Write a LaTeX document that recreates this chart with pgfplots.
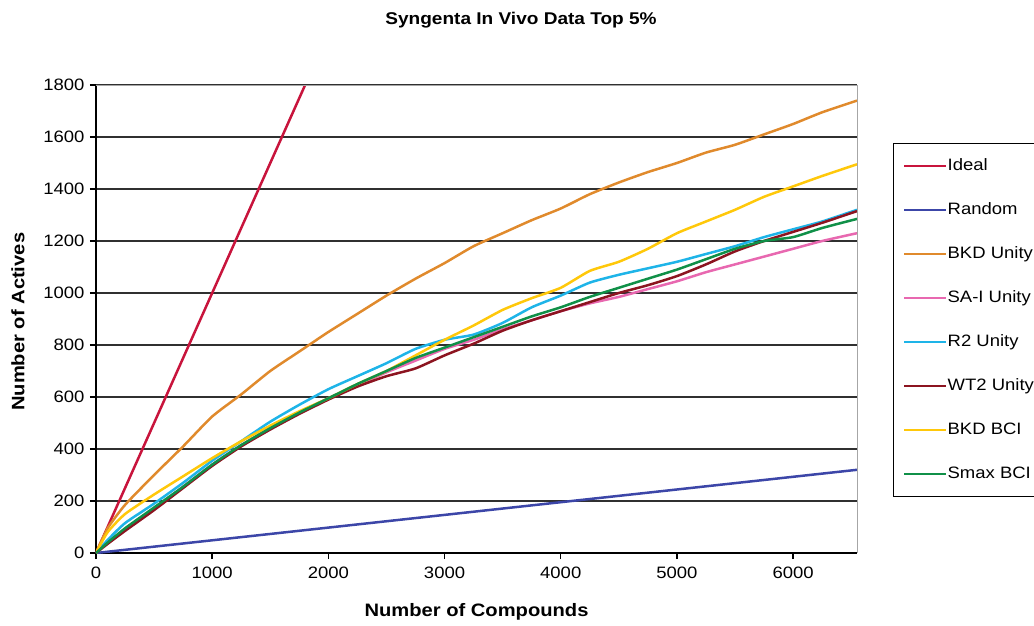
\documentclass[border=0pt]{standalone}
\usepackage{pgfplots}
\pgfplotsset{compat=1.18}
\usetikzlibrary{calc}
\usepackage{fontspec}
\setmainfont{Liberation Sans}[FakeStretch=1.12]
\definecolor{cIdeal}{HTML}{C8143C}
\definecolor{cRandom}{HTML}{3C46A8}
\definecolor{cBKDU}{HTML}{E08A2C}
\definecolor{cSAI}{HTML}{E868B0}
\definecolor{cR2}{HTML}{1EB4E8}
\definecolor{cWT2}{HTML}{8C1420}
\definecolor{cBKDB}{HTML}{FFC80A}
\definecolor{cSmax}{HTML}{109048}
\definecolor{cGrid}{HTML}{303030}
\begin{document}
\begin{tikzpicture}
\begin{axis}[
  scale only axis,
  width=761pt, height=468pt,
  xmin=0, xmax=6550, ymin=0, ymax=1800,
  xtick={0,1000,...,6000}, ytick={0,200,...,1800},
  axis x line*=bottom, axis y line*=left,
  axis line style={black, line width=1.4pt, -},
  tick align=outside, major tick length=6pt,
  tick style={black, line width=1.4pt},
  ymajorgrids, grid style={cGrid, line width=1.4pt},
  /pgf/number format/assume math mode=true,
  /pgf/number format/1000 sep={},
  ticklabel style={font=\fontsize{16.5}{19}\selectfont},
  xticklabel style={yshift=-4pt},
  yticklabel style={xshift=-2pt},
  xlabel={Number of Compounds},
  ylabel={Number of Actives},
  label style={font=\bfseries\fontsize{18}{21}\selectfont},
  xlabel style={at={(axis description cs:0.5,-0.126)}, anchor=center},
  ylabel style={at={(axis description cs:-0.1025,0.494)}, anchor=center},
  legend style={at={(axis description cs:1.047,0.876)}, anchor=north west,
    draw=black, line width=0.8pt, inner xsep=10pt, inner ysep=15pt,
    font=\fontsize{16.5}{19}\selectfont, row sep=29pt,
    nodes={inner sep=0pt, text height=12pt, text depth=3pt}},
  legend cell align=left,
  legend image code/.code={\draw[#1] (0pt,0pt) -- (42pt,0pt);},
  every axis plot/.append style={line width=2.5pt, smooth, tension=0.35},
  clip=true,
]
\addplot[cIdeal] coordinates {(0,0) (1800,1800)};
\addlegendentry{Ideal}
\addplot[cRandom] coordinates {(0,0) (6550,320)};
\addlegendentry{Random}
\addplot[cBKDU] coordinates {(0,0) (100,95) (250,185) (500,300) (750,410) (1000,525) (1250,610) (1500,700) (1750,775) (2000,850) (2250,920) (2500,990) (2750,1055) (3000,1115) (3250,1180) (3500,1230) (3750,1280) (4000,1325) (4250,1380) (4500,1425) (4750,1465) (5000,1500) (5250,1540) (5500,1570) (5750,1610) (6000,1650) (6250,1695) (6550,1740)};
\addlegendentry{BKD Unity}
\addplot[cSAI] coordinates {(0,0) (100,40) (250,90) (500,170) (750,255) (1000,340) (1250,415) (1500,480) (1750,540) (2000,595) (2250,645) (2500,695) (2750,740) (3000,785) (3250,820) (3500,860) (3750,895) (4000,930) (4250,960) (4500,985) (4750,1015) (5000,1045) (5250,1080) (5500,1110) (5750,1140) (6000,1170) (6250,1200) (6550,1230)};
\addlegendentry{SA-I Unity}
\addplot[cR2] coordinates {(0,0) (100,50) (250,115) (500,190) (750,270) (1000,355) (1250,430) (1500,505) (1750,570) (2000,630) (2250,680) (2500,730) (2750,785) (3000,820) (3250,840) (3500,885) (3750,945) (4000,990) (4250,1040) (4500,1070) (4750,1095) (5000,1120) (5250,1150) (5500,1180) (5750,1215) (6000,1245) (6250,1275) (6550,1320)};
\addlegendentry{R2 Unity}
\addplot[cWT2] coordinates {(0,0) (100,35) (250,85) (500,165) (750,250) (1000,335) (1250,410) (1500,475) (1750,535) (2000,590) (2250,640) (2500,680) (2750,710) (3000,760) (3250,805) (3500,855) (3750,895) (4000,930) (4250,965) (4500,1000) (4750,1030) (5000,1065) (5250,1110) (5500,1160) (5750,1200) (6000,1235) (6250,1270) (6550,1315)};
\addlegendentry{WT2 Unity}
\addplot[cBKDB] coordinates {(0,0) (100,80) (250,150) (500,225) (750,295) (1000,365) (1250,430) (1500,490) (1750,545) (2000,595) (2250,650) (2500,700) (2750,760) (3000,820) (3250,875) (3500,935) (3750,980) (4000,1020) (4250,1085) (4500,1120) (4750,1170) (5000,1230) (5250,1275) (5500,1320) (5750,1370) (6000,1410) (6250,1450) (6550,1495)};
\addlegendentry{BKD BCI}
\addplot[cSmax] coordinates {(0,0) (100,40) (250,95) (500,175) (750,255) (1000,340) (1250,415) (1500,480) (1750,540) (2000,595) (2250,650) (2500,700) (2750,750) (3000,790) (3250,830) (3500,870) (3750,910) (4000,945) (4250,985) (4500,1020) (4750,1055) (5000,1090) (5250,1130) (5500,1170) (5750,1200) (6000,1215) (6250,1250) (6550,1285)};
\addlegendentry{Smax BCI}
\end{axis}
\draw[gray!70, line width=1pt] (current axis.north west) -- (current axis.north east) -- (current axis.south east);
\node[font=\bfseries\fontsize{17}{20}\selectfont] at ($(current axis.south west)+(425pt,533pt)$) {Syngenta In Vivo Data Top 5\%};
\pgfresetboundingbox
\path (current axis.south west) ++(-96pt,-72pt) rectangle ++(1034pt,625pt);
\end{tikzpicture}
\end{document}
